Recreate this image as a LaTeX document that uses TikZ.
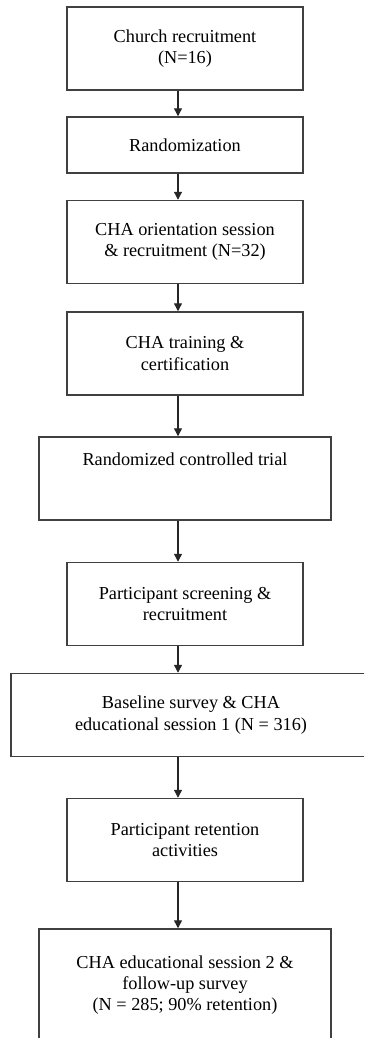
\documentclass[tikz,border=0pt]{standalone}
\usepackage{fontspec}
\setmainfont{Liberation Serif}
\usetikzlibrary{arrows.meta}

\tikzset{
  stagebox/.style={rectangle, draw=black!75, line width=1.1pt, align=center,
    minimum width=177pt, minimum height=62.25pt, inner sep=3pt,
    font=\fontsize{13.7}{16}\selectfont},
  flowarrow/.style={draw=black!85, line width=1pt, -{Triangle[width=6pt,length=6pt]}}
}

\begin{document}
\begin{tikzpicture}[x=0.75pt, y=-0.75pt]
    \path[use as bounding box, clip] (0,0) rectangle (364,1038);

    \node[stagebox](church) at (185, 48.5){Church recruitment\\(N=16)};
    \node[stagebox, minimum height=42pt](rand) at (185, 145){Randomization};
    \node[stagebox](orient) at (185, 242){CHA orientation session\\\& recruitment (N=32)};
    \node[stagebox](train) at (185, 353.5){CHA training \&\\certification};
    \node[stagebox, minimum width=219pt, text height=18pt, text depth=38.25pt](rct) at (185, 478.5){Randomized controlled trial};
    \node[stagebox](screen) at (185, 604){Participant screening \&\\recruitment};
    \node[stagebox, minimum width=270pt](base) at (191, 715){Baseline survey \& CHA\\educational session 1 (N = 316)};
    \node[stagebox](retain) at (185, 840){Participant retention\\activities};
    \node[stagebox, minimum width=219pt, minimum height=84pt](follow) at (185, 985){CHA educational session 2 \&\\follow-up survey\\(N = 285; 90\% retention)};

    \coordinate (axis) at (178, 0);

    \draw[flowarrow] (church.south -| axis) -- (rand.north -| axis);
    \draw[flowarrow] (rand.south -| axis) -- (orient.north -| axis);
    \draw[flowarrow] (orient.south -| axis) -- (train.north -| axis);
    \draw[flowarrow] (train.south -| axis) -- (rct.north -| axis);
    \draw[flowarrow] (rct.south -| axis) -- (screen.north -| axis);
    \draw[flowarrow] (screen.south -| axis) -- (base.north -| axis);
    \draw[flowarrow] (base.south -| axis) -- (retain.north -| axis);
    \draw[flowarrow] (retain.south -| axis) -- (follow.north -| axis);
  \end{tikzpicture}
\end{document}
